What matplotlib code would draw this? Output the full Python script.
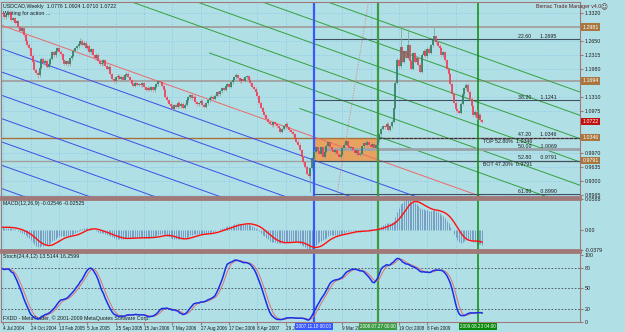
import numpy as np
import pandas as pd
import matplotlib
matplotlib.use("Agg")
import matplotlib.pyplot as plt
import matplotlib.transforms as mtrans

# USDCAD weekly closes, first bar 4 Jul 2004
start_date = "2004-07-04"
closes = [
    1.3290, 1.3210, 1.3260, 1.3340, 1.3300, 1.3150, 1.3190, 1.3080, 1.3120, 1.2980,
    1.2890, 1.2950, 1.2780, 1.2650, 1.2560, 1.2470, 1.2300, 1.2150, 1.1960, 1.1890,
    1.1830, 1.2010, 1.2230, 1.2120, 1.2180, 1.2030,
    1.2110, 1.2220, 1.2380, 1.2310, 1.2420, 1.2480, 1.2390, 1.2330, 1.2190, 1.2110,
    1.2160, 1.2090, 1.2240, 1.2300, 1.2410, 1.2470, 1.2520, 1.2580, 1.2650, 1.2560,
    1.2610, 1.2490, 1.2530, 1.2380, 1.2450, 1.2310,
    1.2240, 1.2320, 1.2180, 1.2090, 1.2120, 1.2190, 1.2060, 1.1990, 1.2030, 1.1860,
    1.1740, 1.1690, 1.1780, 1.1820, 1.1730, 1.1800, 1.1720, 1.1830, 1.1870, 1.1790,
    1.1710, 1.1630, 1.1580, 1.1650, 1.1610, 1.1620,
    1.1590, 1.1640, 1.1540, 1.1480, 1.1530, 1.1490, 1.1550, 1.1470, 1.1560, 1.1620,
    1.1690, 1.1670, 1.1580, 1.1490, 1.1320, 1.1240, 1.1150, 1.1100, 1.1030, 1.1120,
    1.1080, 1.1180, 1.1090, 1.1150, 1.1060, 1.1130,
    1.1230, 1.1310, 1.1350, 1.1280, 1.1320, 1.1190, 1.1140, 1.1170, 1.1220, 1.1130,
    1.1080, 1.1160, 1.1240, 1.1290, 1.1320, 1.1270, 1.1340, 1.1420, 1.1380, 1.1450,
    1.1520, 1.1490, 1.1580, 1.1620, 1.1560, 1.1660,
    1.1720, 1.1780, 1.1830, 1.1760, 1.1690, 1.1740, 1.1700, 1.1780, 1.1810, 1.1720,
    1.1640, 1.1560, 1.1510, 1.1420, 1.1330, 1.1180, 1.1060, 1.0950, 1.0880, 1.0790,
    1.0720, 1.0680, 1.0640, 1.0710, 1.0660, 1.0620,
    1.0570, 1.0490, 1.0550, 1.0610, 1.0680, 1.0590, 1.0520, 1.0480, 1.0420, 1.0330,
    1.0250, 1.0180, 1.0050, 0.9890, 0.9760, 0.9650, 0.9480, 0.9420, 0.9610, 0.9850,
    1.0010, 1.0110, 1.0030, 0.9960, 1.0120, 0.9890,
    1.0010, 1.0150, 1.0230, 1.0120, 1.0060, 0.9990, 1.0040, 0.9950, 0.9880, 0.9930,
    1.0090, 1.0180, 1.0260, 1.0150, 1.0090, 1.0120, 1.0050, 0.9980, 1.0040, 0.9930,
    0.9960, 1.0140, 1.0210, 1.0170, 1.0250, 1.0180,
    1.0120, 1.0200, 1.0090, 1.0160, 1.0280, 1.0420, 1.0560, 1.0620, 1.0590, 1.0680,
    1.0530, 1.0610, 1.0720, 1.1050, 1.1650, 1.2200, 1.2050, 1.2500, 1.2150, 1.2400,
    1.2250, 1.2550, 1.2180, 1.1980, 1.2360, 1.2150,
    1.2250, 1.2080, 1.1920, 1.2320, 1.2410, 1.2280, 1.2460, 1.2370, 1.2550, 1.2680,
    1.2760, 1.2620, 1.2540, 1.2470, 1.2310, 1.2380, 1.2190, 1.1980, 1.1850, 1.1630,
    1.1390, 1.1180, 1.1020, 1.0970, 1.0940, 1.1150,
    1.1380, 1.1520, 1.1610, 1.1440, 1.1270, 1.1090, 1.0880, 1.0960, 1.0820, 1.0890,
    1.0760, 1.0722,
]
# weeks before the first visible bar: not drawn, only warm up the indicators
# (estimated so MACD starts near zero and Stoch starts high, as on the chart)
warmup_closes = [
    1.3050, 1.3120, 1.3010, 1.2960, 1.3080, 1.3150, 1.3060, 1.3110, 1.3200, 1.3140,
    1.3050, 1.3130, 1.3220, 1.3180, 1.3270, 1.3210, 1.3150, 1.3240, 1.3300, 1.3260,
    1.3190, 1.3280, 1.3350, 1.3300, 1.3240, 1.3310,
]
spike_highs = {44: 1.2720, 132: 1.1880, 225: 1.2950, 229: 1.2930, 244: 1.2990}
spike_lows = {20: 1.1775, 174: 0.9060}

# drawn objects
price_ticks = [1.3320, 1.2650, 1.2315, 1.1980, 1.1310, 1.0975, 0.9970, 0.9635, 0.9300, 0.8965]
gray_levels = [1.2981, 1.1694]
box_top, box_bot = 1.0346, 0.9791
box_bars = (176, 212)
fib_pct = ["22.60", "38.20", "47.20", "50.00", "52.80", "61.80"]
fib_price = [1.2695, 1.1241, 1.0346, 1.0069, 0.9791, 0.8990]
axis_marks = [1.2981, 1.1694, 1.0346, 0.9791]
last_price = 1.0722
channel_start = 1.3012          # red line price at bar 0
channel_slope = -0.001506       # per bar
channel_step = 0.05555
blue_count = 7
green_starts = [168, 117, 0, 0, 0, 0]
ray_pts = [(188.7, 0.8929), (206.8, 1.3577)]
vline_bars = [176, 212, 268.4]
vline_labels = ["2007.11.18 00:00", "2008.07.27 00:00", "2009.08.23 04:00"]

title_txt = "USDCAD,Weekly  1.0776 1.0924 1.0710 1.0722"
macd_txt = "MACD(12,26,9) -0.02546 -0.02525"
stoch_txt = "Stoch(24,4,12) 13.5144 16.2599"

plt.rcParams["font.family"] = ["Liberation Sans", "DejaVu Sans"]
bg = "#b0e0e6"
grid_c = "#7cc2ea"
frame_c = "#a07878"
txt_c = "#1c1c1c"
fs = 3.8
fs_date = 3.3

n = len(closes)
nw = len(warmup_closes)
allc = np.array(warmup_closes + closes)
allo = np.r_[allc[0], allc[:-1]]
wick = 0.0035
allhi = np.maximum(allo, allc) + wick
alllo = np.minimum(allo, allc) - wick
for k, v in spike_highs.items():
    allhi[nw + k] = v
for k, v in spike_lows.items():
    alllo[nw + k] = v
c, o, hi, lo = allc[nw:], allo[nw:], allhi[nw:], alllo[nw:]
idx = np.arange(n)
dates = pd.date_range(start_date, periods=n, freq="7D")

# indicators
s = pd.Series(allc)
macd = (s.ewm(span=12, adjust=False).mean() - s.ewm(span=26, adjust=False).mean())
signal = macd.rolling(9, min_periods=1).mean()
hh = pd.Series(allhi).rolling(24, min_periods=1).max()
ll = pd.Series(alllo).rolling(24, min_periods=1).min()
k_line = 100 * (s - ll).rolling(12, min_periods=1).sum() / (hh - ll).rolling(12, min_periods=1).sum()
d_line = k_line.rolling(4, min_periods=1).mean()
macd, signal = macd.values[nw:], signal.values[nw:]
k_line, d_line = k_line.values[nw:], d_line.values[nw:]

W, H = 625, 332
def panel(top, bottom):
    return [1 / W, 1 - bottom / H, 579 / W, (bottom - top) / H]

fig = plt.figure(figsize=(6.25, 3.32), dpi=100)
fig.patch.set_facecolor(bg)
ax = fig.add_axes(panel(2, 197))
axm = fig.add_axes(panel(199, 250))
axs = fig.add_axes(panel(252, 322))

xlim = (-0.85, 326.3)
label_bars = [b for b in range(0, 257, 16) if b not in (176, 208, 256)]
grid_bars = list(range(0, 257, 16))
for a in (ax, axm, axs):
    a.set_facecolor(bg)
    a.set_xlim(*xlim)
    a.yaxis.tick_right()
    a.tick_params(axis="y", labelsize=fs, length=2, pad=1.5, color=frame_c, labelcolor=txt_c)
    for sp in a.spines.values():
        sp.set_color(frame_c)
        sp.set_linewidth(0.8)
    for b in grid_bars:
        a.axvline(b, color=grid_c, lw=0.6, ls=(0, (1, 2)), zorder=0)
    a.set_xticks(label_bars)
    if a is not axs:
        a.tick_params(axis="x", bottom=False, labelbottom=False)
for a in (ax, axm):
    a.spines["bottom"].set_linewidth(2)
axm.spines["top"].set_linewidth(2)
axs.spines["top"].set_linewidth(2)

# ---- main panel
ax.set_ylim(0.8929, 1.3577)
ax.set_yticks(price_ticks)
ax.set_yticklabels([f"{v:.4f}" for v in price_ticks])
for v in price_ticks:
    ax.axhline(v, color=grid_c, lw=0.6, ls=(0, (1, 2)), zorder=0)

ax.fill_between(box_bars, box_bot, box_top, color="#e6a25e", lw=0, zorder=1)
for v in gray_levels:
    ax.axhline(v, color="#a4a4a4", lw=1.4, zorder=1.5)
ax.axhline(box_top, color="#a8703a", lw=1.0, zorder=1.5)
ax.axhline(box_bot, color="#a0a0a0", lw=1.0, zorder=1.5)

# channel
xs = np.array([0, 330])
red = channel_start + channel_slope * xs
ax.plot(xs, red, color="#e87070", lw=0.75, zorder=2)
for j in range(1, blue_count + 1):
    ax.plot(xs, red - j * channel_step, color="#3c4ee6", lw=0.7, zorder=2)
for k, sb in enumerate(green_starts, start=1):
    gx = np.array([sb, 330])
    ax.plot(gx, channel_start + channel_slope * gx + k * channel_step, color="#34a03e", lw=0.7, zorder=2)
ax.plot([p[0] for p in ray_pts], [p[1] for p in ray_pts], color="#d88080", lw=0.7, ls=(0, (1, 1.5)), zorder=2)

# fibo levels
for pct, pr in zip(fib_pct, fib_price):
    if pct == "50.00":
        ax.plot([box_bars[0], xlim[1]], [pr, pr], color="#9aa2aa", lw=2.0, zorder=2)
    elif pct == "47.20":
        ax.plot([box_bars[1], xlim[1]], [pr, pr], color="#28305a", lw=0.8, ls=(0, (3, 1)), zorder=2.1)
    else:
        ax.plot([box_bars[0], xlim[1]], [pr, pr], color="#405060", lw=0.8, zorder=2.1)
    ax.text(313, pr + 0.001, f"{pct}      {pr:.4f}", fontsize=fs, ha="right", va="bottom", color=txt_c, zorder=5)
ax.text(271.5, box_top - 0.003, f"TOP 52.80%  {box_top:.4f}", fontsize=fs, va="top", color=txt_c, zorder=5)
ax.text(271.5, box_bot - 0.003, f"BOT 47.20%  {box_bot:.4f}", fontsize=fs, va="top", color=txt_c, zorder=5)

# candles
up = c >= o
b_lo = np.minimum(o, c)
b_hi = np.maximum(o, c)
for mask, col, wcol in ((up, "#2c7f62", "#7aa898"), (~up, "#ee3b55", "#e890a0")):
    ax.vlines(idx[mask], lo[mask], hi[mask], color=wcol, lw=0.55, zorder=3)
    ax.vlines(idx[mask], b_lo[mask], b_hi[mask], color=col, lw=1.2, zorder=3.1)

# axis price boxes
tr = mtrans.blended_transform_factory(ax.transAxes, ax.transData)
for v in axis_marks:
    ax.text(1.004, v, f"{v:.4f}", transform=tr, fontsize=fs, va="center", ha="left", color="white",
            bbox=dict(facecolor="#a8763e", edgecolor="none", pad=0.8), clip_on=False, zorder=6)
ax.text(1.004, last_price, f"{last_price:.4f}", transform=tr, fontsize=fs, va="center", ha="left",
        color="white", bbox=dict(facecolor="#c01010", edgecolor="none", pad=0.8), clip_on=False, zorder=6)

ax.text(0.004, 0.988, title_txt, transform=ax.transAxes, fontsize=fs, va="top", color=txt_c)
ax.text(0.004, 0.952, "Waiting for action ...", transform=ax.transAxes, fontsize=fs, va="top", color=txt_c)
ax.text(1.036, 0.988, "Bemac Trade Manager v4.0", transform=ax.transAxes, fontsize=fs,
        va="top", ha="right", color="#5a2020", clip_on=False)
ax.text(1.042, 0.988, "\u263a", transform=ax.transAxes, fontsize=fs + 1, va="top", ha="center",
        color="#5a2020", family="DejaVu Sans", clip_on=False)

# ---- MACD
lo_m, hi_m = float(min(macd.min(), signal.min())), float(max(macd.max(), signal.max()))
axm.set_ylim(lo_m, hi_m)
axm.set_yticks([hi_m, 0, lo_m])
axm.set_yticklabels([f"{hi_m:.4f}", "0.00", f"{lo_m:.4f}"])
axm.vlines(idx, 0, macd, color="#5878b0", lw=0.45, zorder=2)
axm.plot(idx, signal, color="#ff1010", lw=1.0, zorder=3)
axm.text(0.004, 0.97, macd_txt, transform=axm.transAxes, fontsize=fs, va="top", color=txt_c)

# ---- Stochastic
axs.set_ylim(0, 104)
axs.set_yticks([0, 20, 50, 80, 100])
for lv in (20, 50, 80):
    axs.axhline(lv, color="#404850", lw=0.6, ls=(0, (2, 2)), zorder=1)
axs.plot(idx, d_line, color="#e07070", lw=0.7, zorder=3)
axs.plot(idx, k_line, color="#1830e8", lw=1.1, zorder=4)
axs.text(0.004, 0.97, stoch_txt, transform=axs.transAxes, fontsize=fs, va="top", color=txt_c)
axs.text(0.004, 0.02, "FXDD - MetaTrader, \u00a9 2001-2009 MetaQuotes Software Corp.", transform=axs.transAxes,
         fontsize=fs, va="bottom", color=txt_c)
axs.set_xticklabels([f"{dates[b].day} {dates[b].strftime('%b %Y')}" for b in label_bars],
                    fontsize=fs_date, ha="left", color=txt_c)
axs.tick_params(axis="x", length=2, pad=1, color=frame_c)

# vertical markers through all panels
vcols = ["#3858ff", "#3c9c44", "#0a8a0a"]
vlw = [1.6, 1.6, 1.1]
trb = mtrans.blended_transform_factory(axs.transData, axs.transAxes)
for b, lab, col, w in zip(vline_bars, vline_labels, vcols, vlw):
    for a in (ax, axm, axs):
        a.axvline(b, color=col, lw=w, zorder=2.5)
    axs.text(b, -0.025, lab, transform=trb, fontsize=fs_date, ha="center", va="top", color="white",
             bbox=dict(facecolor=col, edgecolor="none", pad=0.8), clip_on=False, zorder=7)

fig.savefig("out.png", dpi=100, facecolor=bg)
